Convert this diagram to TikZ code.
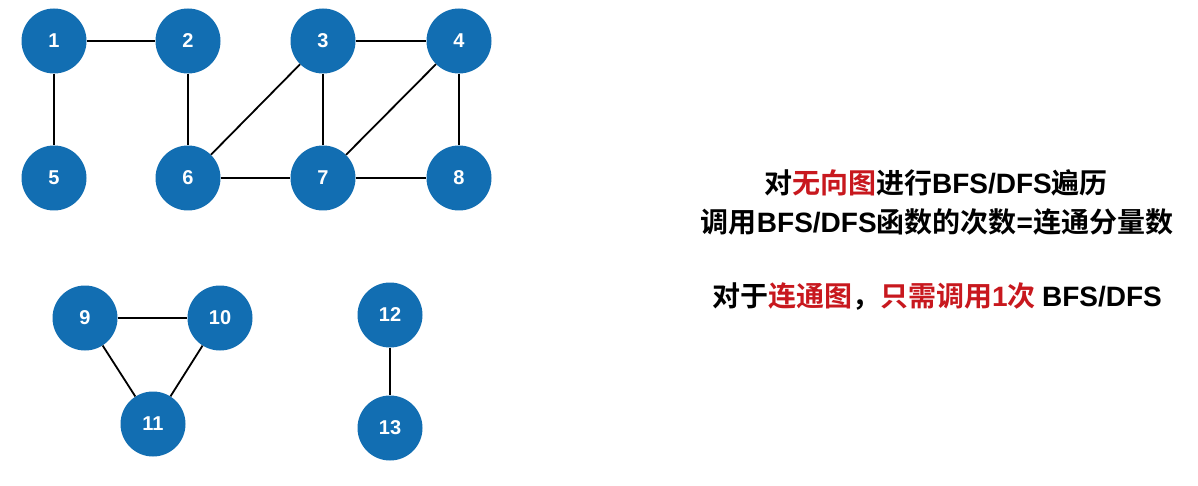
\documentclass[tikz,border=0pt]{standalone}
\usepackage{fontspec}
\setmainfont{Liberation Sans}
\newfontfamily\cjk[BoldFont={Noto Sans CJK SC Bold}]{Noto Sans CJK SC}
\newcommand{\lat}[1]{{\rmfamily\bfseries #1}}
\definecolor{nodeblue}{RGB}{18,110,178}
\definecolor{hlred}{RGB}{200,24,30}
\begin{document}
\begin{tikzpicture}[x=1pt,y=-1pt,
  vtx/.style={circle,fill=nodeblue,minimum size=65pt,inner sep=0pt,text=white,font=\fontsize{20}{20}\selectfont\bfseries},
  edge/.style={draw=black,line width=1.8pt},
  txt/.style={font=\cjk\bfseries\fontsize{28}{28}\selectfont,anchor=center,inner sep=0pt}]
\useasboundingbox (0,0) rectangle (1198,486);
\fill[white] (0,0) rectangle (1198,486);
\node[vtx] (n1) at (54,41) {1};
\node[vtx] (n2) at (188,41) {2};
\node[vtx] (n3) at (323,41) {3};
\node[vtx] (n4) at (459,41) {4};
\node[vtx] (n5) at (54,178) {5};
\node[vtx] (n6) at (188,178) {6};
\node[vtx] (n7) at (323,178) {7};
\node[vtx] (n8) at (459,178) {8};
\node[vtx] (n9) at (85,318) {9};
\node[vtx] (n10) at (220,318) {10};
\node[vtx] (n11) at (153,424) {11};
\node[vtx] (n12) at (390,315) {12};
\node[vtx] (n13) at (390,428) {13};
\draw[edge] (n1) -- (n2);
\draw[edge] (n1) -- (n5);
\draw[edge] (n2) -- (n6);
\draw[edge] (n3) -- (n4);
\draw[edge] (n3) -- (n6);
\draw[edge] (n3) -- (n7);
\draw[edge] (n4) -- (n7);
\draw[edge] (n4) -- (n8);
\draw[edge] (n6) -- (n7);
\draw[edge] (n7) -- (n8);
\draw[edge] (n9) -- (n10);
\draw[edge] (n9) -- (n11);
\draw[edge] (n10) -- (n11);
\draw[edge] (n12) -- (n13);
\node[txt] (t1) at (936,183) {对\textcolor{hlred}{无向图}进行\lat{BFS/DFS}遍历};
\node[txt] (t2) at (937,222) {调用\lat{BFS/DFS}函数的次数\lat{=}连通分量数};
\node[txt] (t3) at (937,297) {对于\textcolor{hlred}{连通图}，\textcolor{hlred}{只需调用\lat{1}次} \lat{BFS/DFS}};
\end{tikzpicture}
\end{document}
